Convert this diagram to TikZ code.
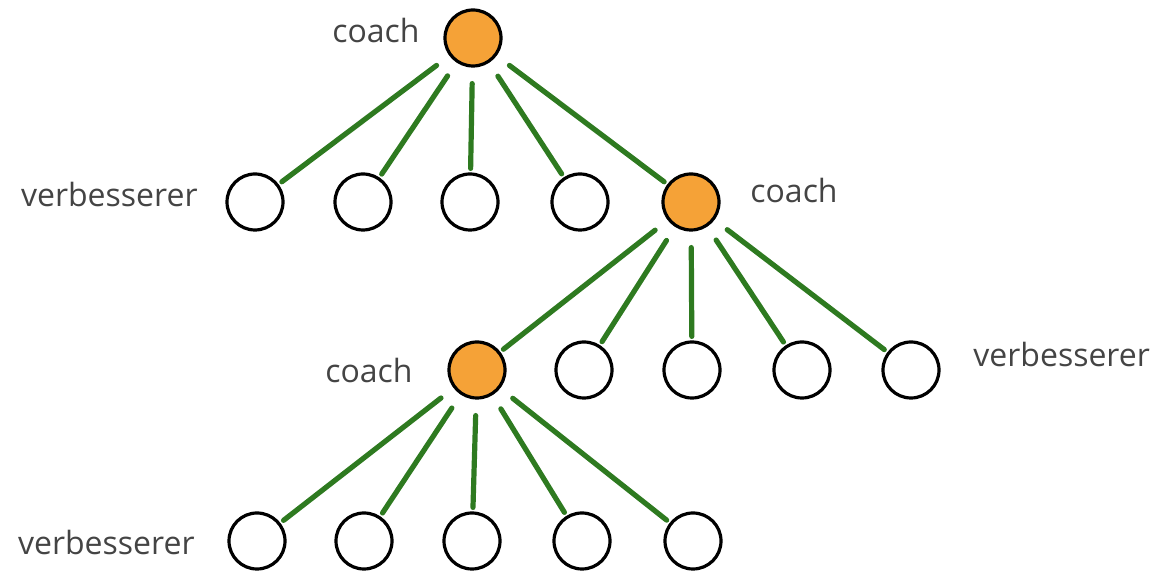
\documentclass[tikz,border=0pt]{standalone}
\usepackage{fontspec}
\setmainfont{Open Sans}
\usepackage{tikz}

\definecolor{coachorange}{RGB}{245,162,55}
\definecolor{edgegreen}{RGB}{46,122,32}
\definecolor{labelgray}{RGB}{68,68,68}

\begin{document}
\begin{tikzpicture}
		[x=0.5pt,y=-0.5pt,line cap=round,
		%Styles
		member/.style={circle,draw=black,line width=1.6pt,fill=white,minimum size=28pt,inner sep=0pt},
		coach/.style={member,fill=coachorange},
		edge/.style={edgegreen,line width=2.6pt,shorten <=8pt,shorten >=2pt},
		information text/.style={text=labelgray,font=\fontsize{16}{18}\selectfont,inner sep=0pt}
		]
		
		\useasboundingbox (0,0) rectangle (1169,571);
		
		%The graphic
		\node[coach] (c0) at (473,38) {};
		
		\node[member] (a1) at (255,202) {};
		\node[member] (a2) at (363,202) {};
		\node[member] (a3) at (470,202) {};
		\node[member] (a4) at (580,202) {};
		\node[coach] (c1) at (691,202) {};
		
		\node[coach] (c2) at (477,370) {};
		\node[member] (b2) at (584,370) {};
		\node[member] (b3) at (692,370) {};
		\node[member] (b4) at (802,370) {};
		\node[member] (b5) at (911,370) {};
		
		\node[member] (d1) at (257,541) {};
		\node[member] (d2) at (364,541) {};
		\node[member] (d3) at (472,541) {};
		\node[member] (d4) at (582,541) {};
		\node[member] (d5) at (693,541) {};
		
		%Edges
		\draw[edge] (c0) -- (a1);
		\draw[edge] (c0) -- (a2);
		\draw[edge] (c0) -- (a3);
		\draw[edge] (c0) -- (a4);
		\draw[edge] (c0) -- (c1);
		
		\draw[edge] (c1) -- (c2);
		\draw[edge] (c1) -- (b2);
		\draw[edge] (c1) -- (b3);
		\draw[edge] (c1) -- (b4);
		\draw[edge] (c1) -- (b5);
		
		\draw[edge] (c2) -- (d1);
		\draw[edge] (c2) -- (d2);
		\draw[edge] (c2) -- (d3);
		\draw[edge] (c2) -- (d4);
		\draw[edge] (c2) -- (d5);
		
		%Labels
		\node[information text,anchor=base east] (l0) at (420,43) {coach};
		\node[information text,anchor=base east] (l1) at (198,207) {verbesserer};
		\node[information text,anchor=base west] (l2) at (750,203) {coach};
		\node[information text,anchor=base east] (l3) at (413,383) {coach};
		\node[information text,anchor=base west] (l4) at (973,367) {verbesserer};
		\node[information text,anchor=base east] (l5) at (195,555) {verbesserer};
	\end{tikzpicture}
\end{document}
